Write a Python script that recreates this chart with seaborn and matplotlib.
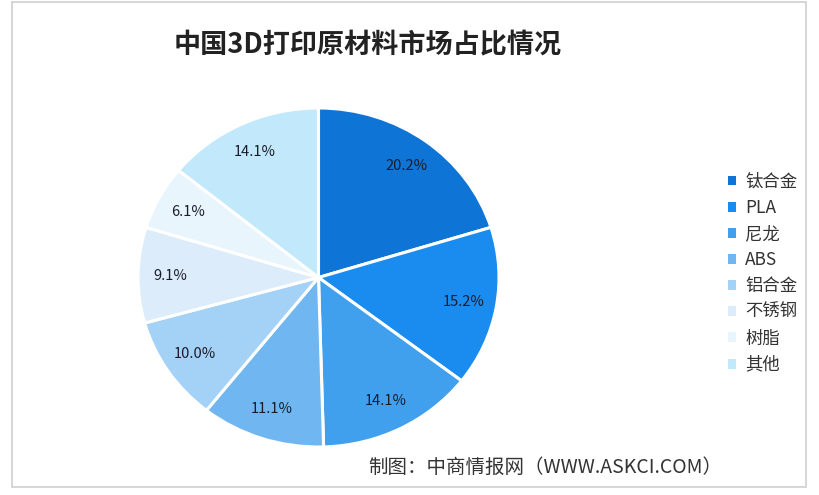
import matplotlib
matplotlib.use("Agg")
import matplotlib.pyplot as plt
import matplotlib.patches as mpatches
import seaborn as sns

# .:: Data ::.
materials = ["钛合金", "PLA", "尼龙", "ABS", "铝合金", "不锈钢", "树脂", "其他"]
shares = [20.2, 15.2, 14.1, 11.1, 10.0, 9.1, 6.1, 14.1]
slice_colors = ["#0e74d6", "#1a8cf0", "#40a0ee", "#70b6f0",
                "#a4d1f6", "#dcecfb", "#e8f5fd", "#c2e9fb"]

title = "中国3D打印原材料市场占比情况"
source = "制图：中商情报网（WWW.ASKCI.COM）"

# .:: Style ::.
sns.set_theme(style="white")
plt.rcParams["font.family"] = ["Noto Sans CJK SC", "DejaVu Sans"]
palette = sns.color_palette(slice_colors)

fig = plt.figure(figsize=(8.19, 4.95), dpi=100)
fig.patch.set_facecolor("white")

# outer frame
fig.patches.append(mpatches.Rectangle((12 / 819, 8 / 495), 794 / 819, 485 / 495,
                                      transform=fig.transFigure, fill=False,
                                      edgecolor="#cfcfcf", linewidth=1.2))

# .:: Pie ::.
ax = fig.add_axes([138 / 819, 1 - 447 / 495, 361 / 819, 339 / 495])
wedges, texts, autotexts = ax.pie(
    shares, colors=palette, startangle=90, counterclock=False,
    autopct="%.1f%%", pctdistance=0.82,
    wedgeprops=dict(edgecolor="white", linewidth=2.2),
    textprops=dict(fontsize=10.5, color="#1c1c28"),
)
ax.set_aspect("auto")
ax.set_xlim(-1, 1)
ax.set_ylim(-1, 1)
ax.axis("off")

# .:: Legend ::.
handles = [mpatches.Patch(facecolor=c, edgecolor="none") for c in palette]
fig.legend(handles, materials, loc="upper left", bbox_to_anchor=(712 / 819, 1 - 157 / 495),
           frameon=False, fontsize=12.5, handlelength=0.5, handleheight=0.5,
           handletextpad=0.5, labelspacing=0.47, labelcolor="#333333")

# .:: Texts ::.
fig.text(368 / 819, 1 - 45 / 495, title, ha="center", va="center",
         fontsize=19.5, fontweight="heavy", color="#222222")
fig.text(545 / 819, 1 - 467 / 495, source, ha="center", va="center",
         fontsize=14, color="#333333")

fig.savefig("out.png", dpi=100)
